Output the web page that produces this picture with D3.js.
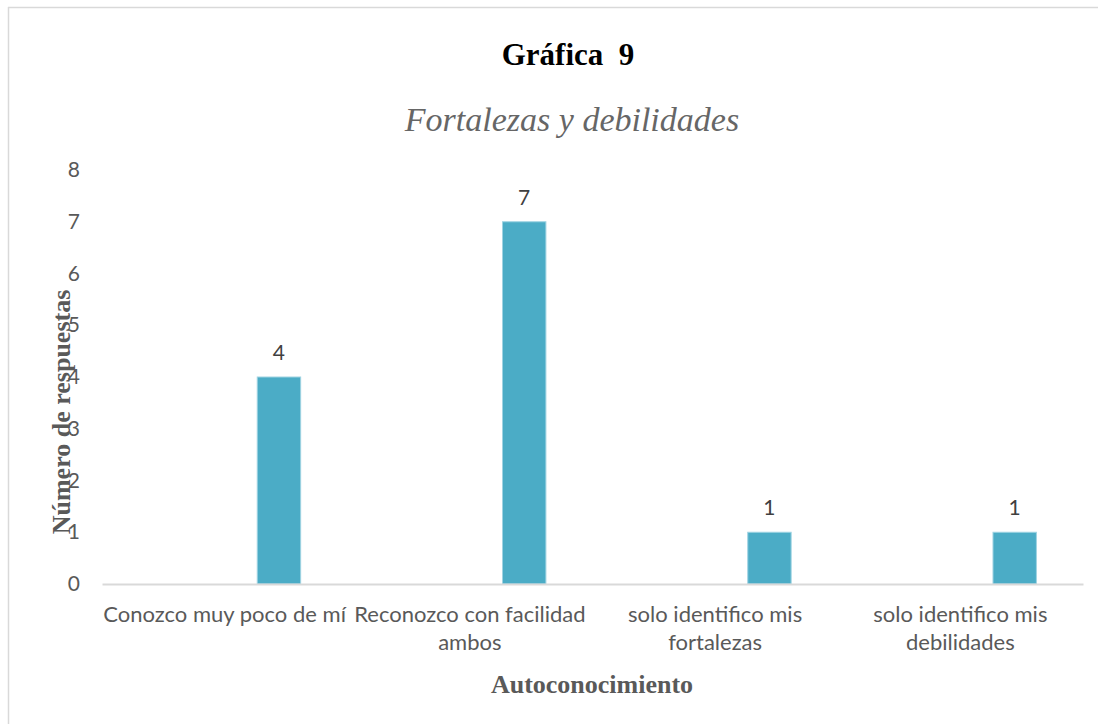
<!DOCTYPE html>
<html>
<head>
<meta charset="utf-8">
<script src="https://cdn.jsdelivr.net/npm/d3@7"></script>
<style>
  html, body { margin: 0; padding: 0; background: #fff; }
  svg { display: block; }
</style>
</head>
<body>
<svg id="chart" width="1098" height="724"></svg>
<script>
const categories = ["Conozco muy poco de mí", "Reconozco con facilidad ambos", "solo identifico mis fortalezas", "solo identifico mis debilidades"];
const values = [4, 7, 1, 1];
const yTicks = [0, 1, 2, 3, 4, 5, 6, 7, 8];
const title = "Gráfica\u00a0 9";
const subtitle = "Fortalezas y debilidades";
const xTitle = "Autoconocimiento";
const yTitle = "Número de respuestas";

const svg = d3.select("#chart");
const W = 1098, H = 724;
const plot = { left: 102, right: 1083, top: 170, bottom: 584 };

// chart frame (top and left edges visible)
svg.append("line").attr("x1", 8).attr("x2", W).attr("y1", 7.5).attr("y2", 7.5)
  .attr("stroke", "#d9d9d9").attr("stroke-width", 1.5);
svg.append("line").attr("x1", 8.5).attr("x2", 8.5).attr("y1", 7).attr("y2", H)
  .attr("stroke", "#d9d9d9").attr("stroke-width", 1.5);

const x = d3.scaleBand().domain(categories).range([plot.left, plot.right]).padding(0);
const y = d3.scaleLinear().domain([0, 8]).range([plot.bottom, plot.top]);

const sans = "Lato, 'Open Sans', sans-serif";
const serif = "'Liberation Serif', 'Times New Roman', serif";

// titles
svg.append("text").attr("x", 568).attr("y", 65).attr("text-anchor", "middle")
  .attr("font-family", serif).attr("font-weight", "bold").attr("font-size", 31)
  .attr("fill", "#000").text(title);
svg.append("text").attr("x", 572).attr("y", 131).attr("text-anchor", "middle")
  .attr("font-family", serif).attr("font-style", "italic").attr("font-size", 34)
  .attr("fill", "#666").text(subtitle);

// y axis labels
const yAxis = d3.axisLeft(y).tickValues(yTicks).tickSize(0).tickPadding(0);
const gy = svg.append("g").attr("transform", `translate(80,0)`).call(yAxis);
gy.select(".domain").remove();
gy.selectAll("text").attr("font-family", sans).attr("font-size", 21).attr("fill", "#595959");

// bars
const barOffset = 0.633, barWidth = 0.177;
svg.append("g").selectAll("rect").data(values).join("rect")
  .attr("x", (d, i) => x(categories[i]) + x.bandwidth() * barOffset)
  .attr("width", x.bandwidth() * barWidth)
  .attr("y", d => y(d))
  .attr("height", d => y(0) - y(d))
  .attr("fill", "#4bacc6")
  .attr("stroke", "#9fd3e2").attr("stroke-width", 1);

// data labels
svg.append("g").selectAll("text").data(values).join("text")
  .attr("x", (d, i) => x(categories[i]) + x.bandwidth() * (barOffset + barWidth / 2))
  .attr("y", d => y(d) - 17)
  .attr("text-anchor", "middle")
  .attr("font-family", sans).attr("font-size", 21).attr("fill", "#404040")
  .text(d => d);

// x axis
const xAxis = d3.axisBottom(x).tickSize(0).tickPadding(0);
const gx = svg.append("g").attr("transform", `translate(0,${plot.bottom})`).call(xAxis);
gx.select(".domain").attr("stroke", "#d9d9d9").attr("stroke-width", 2);
gx.selectAll("text").remove();

// category labels with wrapping
const labelG = svg.append("g");
categories.forEach(c => {
  const t = labelG.append("text").attr("text-anchor", "middle")
    .attr("font-family", sans).attr("font-size", 22).attr("fill", "#595959")
    .attr("x", x(c) + x.bandwidth() / 2).attr("y", 622);
  const words = c.split(" ");
  let line = [];
  let ts = t.append("tspan").attr("x", x(c) + x.bandwidth() / 2).attr("dy", 0);
  words.forEach(w => {
    line.push(w);
    ts.text(line.join(" "));
    if (ts.node().getComputedTextLength() > x.bandwidth() + 4 && line.length > 1) {
      line.pop();
      ts.text(line.join(" "));
      line = [w];
      ts = t.append("tspan").attr("x", x(c) + x.bandwidth() / 2).attr("dy", 28).text(w);
    }
  });
});

// axis titles
svg.append("text").attr("x", 592).attr("y", 693).attr("text-anchor", "middle")
  .attr("font-family", serif).attr("font-weight", "bold").attr("font-size", 26)
  .attr("fill", "#595959").text(xTitle);
svg.append("text").attr("transform", "translate(70,412) rotate(-90)")
  .attr("text-anchor", "middle")
  .attr("font-family", serif).attr("font-weight", "bold").attr("font-size", 26)
  .attr("fill", "#595959").text(yTitle);
</script>
</body>
</html>
